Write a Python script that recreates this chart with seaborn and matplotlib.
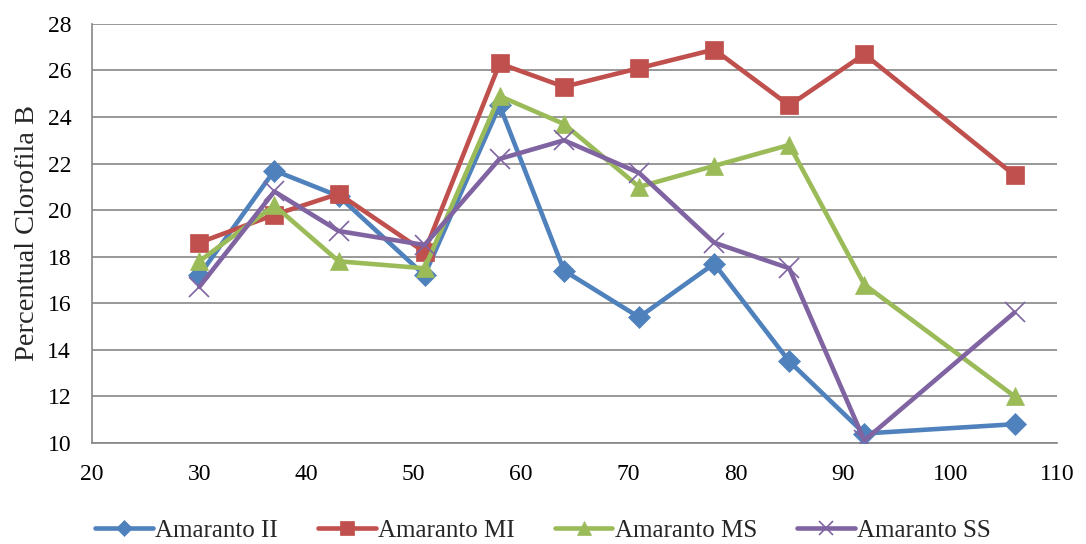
import matplotlib
matplotlib.use("Agg")
import matplotlib.pyplot as plt
import seaborn as sns
import pandas as pd

days = [30, 37, 43, 51, 58, 64, 71, 78, 85, 92, 106]
series_names = ["Amaranto II", "Amaranto MI", "Amaranto MS", "Amaranto SS"]
amaranto_ii = [17.2, 21.7, 20.6, 17.2, 24.5, 17.4, 15.4, 17.7, 13.5, 10.4, 10.8]
amaranto_mi = [18.6, 19.8, 20.7, 18.2, 26.3, 25.3, 26.1, 26.9, 24.5, 26.7, 21.5]
amaranto_ms = [17.8, 20.2, 17.8, 17.5, 24.9, 23.7, 21.0, 21.9, 22.8, 16.8, 12.0]
amaranto_ss = [16.7, 20.8, 19.1, 18.5, 22.2, 23.0, 21.6, 18.6, 17.5, 10.1, 15.6]
y_ticks = [10, 12, 14, 16, 18, 20, 22, 24, 26, 28]
x_ticks = [20, 30, 40, 50, 60, 70, 80, 90, 100, 110]

values = [amaranto_ii, amaranto_mi, amaranto_ms, amaranto_ss]

sns.set_style("white")
plt.rcParams["font.family"] = ["Liberation Serif", "DejaVu Serif"]

colors = ["#4F81BD", "#C0504D", "#9BBB59", "#8064A2"]
marker_list = ["D", "s", "^", "x"]
msizes = [11, 13.5, 13, 14]

fig = plt.figure(figsize=(10.86, 5.44), dpi=100)
ax = fig.add_axes([0.0847, 0.186, 0.889, 0.770])

for name, vals, c, m, ms in zip(series_names, values, colors, marker_list, msizes):
    d = pd.DataFrame({"dia": days, "valor": vals})
    sns.lineplot(data=d, x="dia", y="valor", color=c, marker=m,
                 markersize=ms, markeredgecolor=c, markerfacecolor=c,
                 markeredgewidth=(1.2 if m == "x" else 0.5),
                 linewidth=3.3, label=name, legend=False, ax=ax, zorder=3)

ax.set_xlim(20, 110)
ax.set_ylim(10, 28)
ax.set_xticks(x_ticks)
ax.set_yticks(y_ticks)
ax.yaxis.grid(True, color="#868686", linewidth=1.2)
ax.xaxis.grid(False)
ax.set_axisbelow(True)
for s in ["top", "right"]:
    ax.spines[s].set_visible(False)
for s in ["left", "bottom"]:
    ax.spines[s].set_color("#868686")
    ax.spines[s].set_linewidth(1.2)
ax.tick_params(axis="both", which="both", direction="out", length=6,
               width=1.2, color="#868686", labelsize=17, labelcolor="black")
ax.tick_params(axis="x", pad=9)
ax.tick_params(axis="y", pad=9)
ax.set_xlabel("")
ax.set_ylabel("Percentual Clorofila B", fontsize=20.5, labelpad=5)

handles = ax.lines[:4]
fig.legend(handles=handles, labels=series_names, loc="lower center",
           bbox_to_anchor=(0.5, -0.038), ncol=4, frameon=False, fontsize=18,
           handlelength=2.3, handletextpad=0.1, columnspacing=1.6,
           markerscale=0.75)

fig.savefig("out.png", dpi=100)
